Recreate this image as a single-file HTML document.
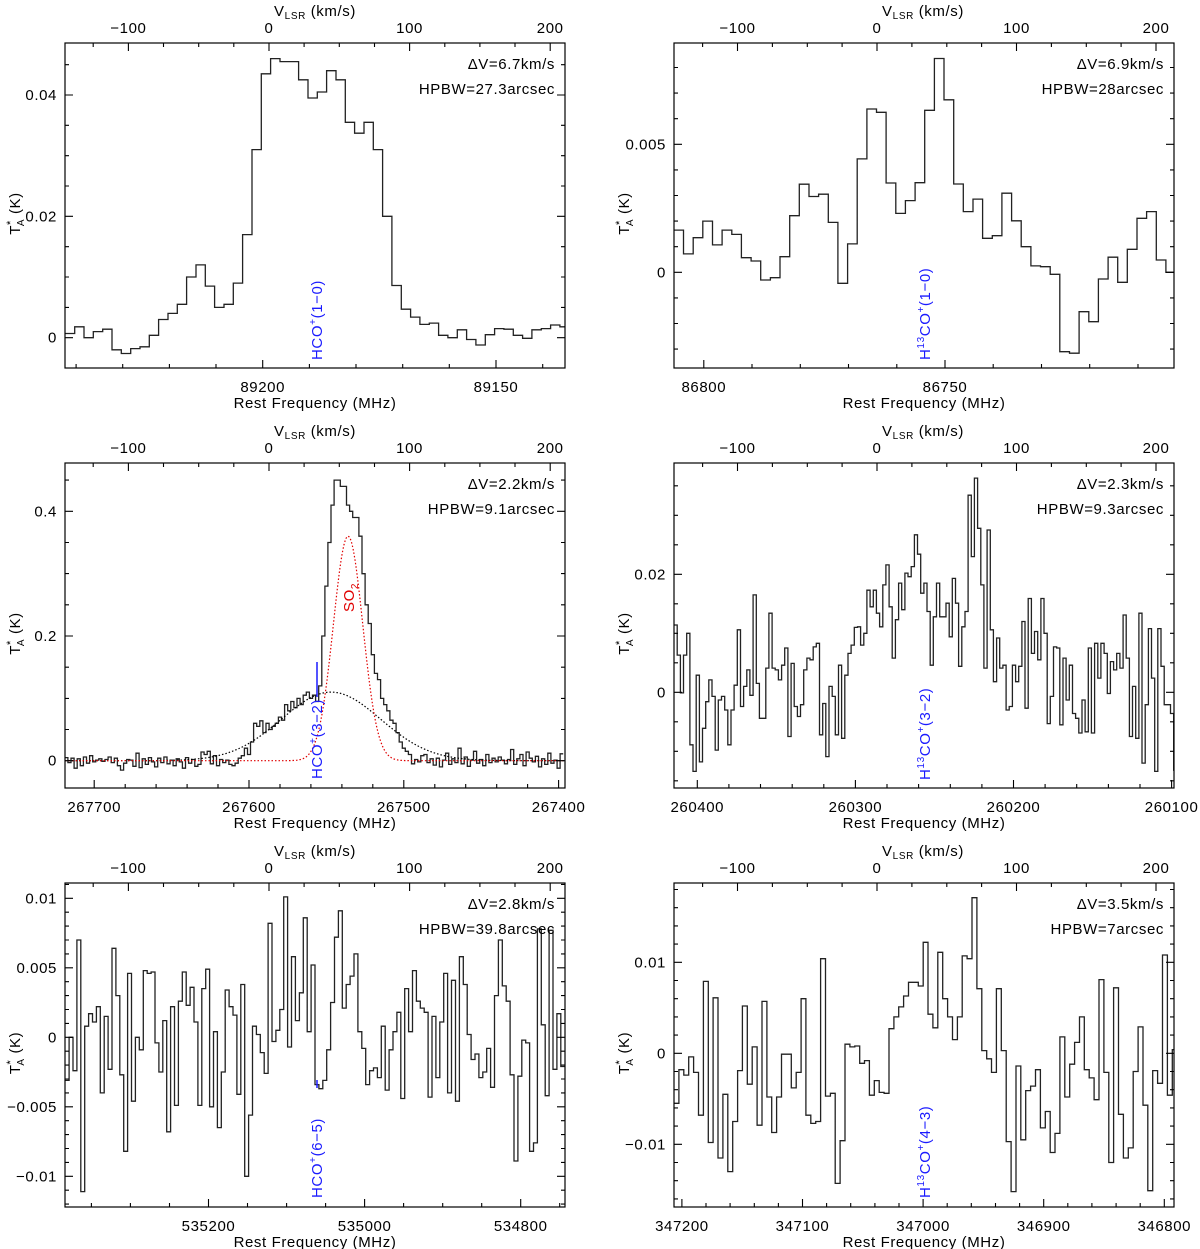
<!DOCTYPE html>
<html>
<head>
<meta charset="utf-8">
<style>
  html, body { margin: 0; padding: 0; background: #fff; }
  svg { display: block; }
  text { font-family: "Liberation Sans", "DejaVu Sans", sans-serif; fill: #000; letter-spacing: 0.6px; }
</style>
</head>
<body>
<svg id="fig" width="1200" height="1249" viewBox="0 0 1200 1249" xmlns="http://www.w3.org/2000/svg"></svg>
<script>
// ---------- DATA (T_A* in K per channel) ----------
const p1Values = [0.0007,0.0018,0,0.001,0.0014,-0.002,-0.0026,-0.0018,-0.0015,0.0004,0.003,0.004,0.0055,0.01,0.012,0.0085,0.005,0.0055,0.009,0.017,0.031,0.0435,0.046,0.0455,0.0455,0.0425,0.0395,0.0405,0.044,0.0425,0.0355,0.0337,0.0355,0.031,0.02,0.0086,0.0047,0.0034,0.0022,0.0024,0.0004,0,0.0013,-0.0003,-0.0012,0.0005,0.0015,0.0014,0.0004,-0.0001,0.0013,0.0015,0.0021,0.0018];
const p2Values = [0.00165,0.00072,0.00135,0.00200,0.00107,0.00165,0.00148,0.00057,0.00044,-0.00030,-0.00021,0.00061,0.00221,0.00344,0.00296,0.00305,0.00195,-0.00043,0.00111,0.00443,0.00638,0.00625,0.00349,0.00230,0.00280,0.00350,0.00633,0.00835,0.00674,0.00345,0.00237,0.00286,0.00133,0.00143,0.00309,0.00201,0.00100,0.00025,0.00022,-0.00008,-0.00310,-0.00316,-0.00154,-0.00193,-0.00026,0.00059,-0.00039,0.00090,0.00211,0.00237,0.00048,0];
const p3Values = [0.005,-0.003,0.004,-0.012,0.003,-0.008,0.006,-0.004,0.008,-0.002,0.001,0.003,-0.001,0.002,0.006,-0.003,0.004,-0.008,-0.015,-0.004,0.002,0.001,-0.009,0.012,-0.011,0.003,-0.006,0.005,-0.002,-0.01,0.004,-0.003,0.006,-0.005,0.001,-0.008,0.003,-0.002,-0.012,0.005,-0.004,0.002,-0.009,-0.006,0.014,0.01,
 0.015,-0.005,0.008,-0.008,0.002,-0.003,0.001,-0.006,-0.008,-0.004,0.004,0.008,0.02,0.01,
 0.03,0.06,0.055,0.064,0.045,0.06,
 0.05,0.055,0.06,0.07,0.065,0.09,
 0.08,0.095,0.085,0.1,0.09,0.105,
 0.11,0.1,0.105,0.095,0.12,
 0.2,0.28,0.35,0.41,0.45,0.45,0.44,0.44,0.41,0.4,0.39,0.39,0.36,0.3,0.25,0.22,0.17,0.14,0.13,0.1,0.09,0.08,0.065,0.06,0.045,0.03,0.02,0.015,0.01,
 -0.005,0.002,-0.002,0.008,0.01,-0.003,0.003,-0.007,0.004,-0.01,0.001,0.012,-0.006,0.003,-0.003,0.02,-0.005,0.006,-0.009,0.001,0.015,-0.004,0.002,-0.008,0.01,-0.003,0.004,-0.002,0.006,0.001,-0.005,0.002,0.018,-0.006,0.003,0.01,-0.008,0.014,0.004,-0.002,0.007,-0.01,0.003,-0.006,0.012,-0.004,0.001,-0.012,0.011];
const p4ValuesmK = [11.4,6.3,-0.1,6.3,10,-8.9,-13.4,2.9,-11.8,-6.1,-1.6,2.1,-0.7,-9.8,-1.3,-0.7,-3,-8.9,-3,1.2,10.6,-2.4,1,3.8,-0.5,16.5,1.5,-4.4,-4.4,4.1,13.4,4.1,3.8,2.1,4.6,7.5,-7.5,4.9,-2.4,-4.1,-2.1,3.8,5.8,5.5,7.7,8.3,-7.2,-1.9,-10.9,1,-0.7,-7.2,4.6,-7.8,2.9,6.6,8,11,11.1,8,10,17.3,14.5,17.3,13.4,11.1,18.2,21.6,14.5,5.8,12.3,18.5,14,20.2,19.6,21.3,26.7,23.4,16.8,18.5,13.7,4.6,12.8,18.5,12.8,12.8,15.1,9.4,19.3,15.1,4.4,11.1,13.7,33.4,23,36.3,27.8,18.2,4.1,27.5,10.6,1.8,9.2,4.1,4.6,-3,-2.4,4.6,1.8,4.4,12,-2.7,15.9,6.6,10.3,5.5,15.9,10,-5.3,-0.7,7.7,7.5,-5.5,5.8,-1.3,4.6,-3.6,-4.4,-6.9,-1.3,-6.7,7.5,-6.9,8.3,2.4,8.3,6.6,-0.2,5.2,3.8,6.6,4.1,13.1,5.8,-7.5,1,-7.8,13.4,-12,-2.1,10.8,2.4,-13.4,10.8,4.4,-2.1,-2.1,-3.6,-13.2,-6.1,-2.4,-4.1];
const p5ValuesmK = [-3.1,0,-2.4,7,-11.1,0.8,1.7,1.1,2.2,-4,1.5,-2.3,6.4,3,-2.7,-8.2,4.6,-4.6,0,-0.9,4.8,4.6,4.7,-0.4,-2.5,1.2,-6.8,2.2,-4.9,2.6,4.7,2.3,3.6,1.1,-4.9,3.5,4.9,-5,0.4,-6.5,-2.5,3.4,2.2,1.6,-4.1,3.8,-10,-5.6,0.8,0.2,-1.1,-2.6,8.2,-0.3,0.5,2,10.1,-0.7,5.8,1.2,3.2,8.6,0.4,5.2,-3.4,-3.7,-3.1,-0.9,2.5,7.2,9.1,2.1,3.8,4.4,6,0.4,-0.8,-3.4,-2.4,-2.2,-2.9,0.8,-3.8,-0.9,0.4,1.8,-4.4,3.5,0.4,4.8,2.6,2.1,1.8,-4.3,1.5,-2.9,1.1,4.6,-4,4.1,-4.6,5.8,3.8,0.2,-1.6,-1.2,-2.9,-2.5,-0.8,-3.6,3,7,3.7,2.6,-2.7,-8.9,-2.8,-0.2,-0.4,-8.2,-7.6,7.8,0.9,-4.2,7.7,-2.3,1.7,-2.1];
const p6ValuesmK = [-5.5,-1.8,-2.4,-0.4,-2.1,-6.8,7.9,-9.8,6.1,-11.5,-4.5,-13,-7.5,-1.9,5.2,-3.4,0.7,-7.9,5.7,-4.8,-8.7,-4.8,-0.1,-0.1,-3.8,-2.1,6,-6.8,-7.7,-7.5,10.4,-4.7,-4.4,-14.3,-9.6,1,0.7,0.8,-1.1,-0.8,-4.6,-3,-4.3,-4.4,2.7,4,5.1,6.3,7.8,7.8,7.4,12.2,4.3,2.8,11.1,6,4,1.5,4,10.7,10.4,17.1,7.1,0.3,-0.6,-2.1,7.1,0.3,-9.7,-15.2,-1.4,-9.5,-4.1,-3.6,-1.8,-8.2,-6.4,-10.9,-8.8,1.8,-4.8,-1.2,1.2,4,-1.8,-2.7,-5.1,8.1,-2.1,-12,7.2,-6.7,-11.5,-10.4,-2,2.9,-5.7,-15.1,-1.9,-3.3,10.8,-4.6,0.4,0];

// Gaussian fit components for HCO+(3-2) panel: [amplitude K, centre MHz, sigma MHz]
const fitBroad = [0.11, 267547, 32];
const fitSO2 = [0.36, 267536, 9.5];

// tick label arrays
const p1FreqTicks = [89200, 89150];
const p2FreqTicks = [86800, 86750];
const p3FreqTicks = [267700, 267600, 267500, 267400];
const p4FreqTicks = [260400, 260300, 260200, 260100];
const p5FreqTicks = [535200, 535000, 534800];
const p6FreqTicks = [347200, 347100, 347000, 346900, 346800];
const velTicks = [-100, 0, 100, 200];
const p1YTicks = [0, 0.02, 0.04];
const p2YTicks = [0, 0.005];
const p3YTicks = [0, 0.2, 0.4];
const p4YTicks = [0, 0.02];
const p5YTicks = [-0.01, -0.005, 0, 0.005, 0.01];
const p6YTicks = [-0.01, 0, 0.01];

const NS = "http://www.w3.org/2000/svg";
const svg = document.getElementById('fig');
function el(tag, attrs, parent) {
  const e = document.createElementNS(NS, tag);
  for (const k in attrs) e.setAttribute(k, attrs[k]);
  (parent || svg).appendChild(e);
  return e;
}
function lin(a) {
  const s = (a[3] - a[1]) / (a[2] - a[0]);
  const f = v => a[1] + (v - a[0]) * s;
  f.inv = p => a[0] + (p - a[1]) / s;
  return f;
}
function fmt(v) {
  if (v === 0) return "0";
  let s = String(+v.toFixed(4));
  return s.replace("-", "\u2212");
}

const FS = 15;
const panels = [
  {id:'hco-1-0', x0:65, x1:565, y0:43, y1:368, fr:[89200,262.7,89150,496], yr:[0,337.7,0.04,95], vr:[0,269,100,409.6],
   start:89242.3, step:-2, vals:p1Values, scale:1, fT:p1FreqTicks, fMinor:10, yT:p1YTicks, yMinor:0.005,
   dv:'\u0394V=6.7km/s', hp:'HPBW=27.3arcsec', iso:false, tr:'(1\u22120)', lx:317, ly:360},
  {id:'h13co-1-0', x0:674, x1:1174, y0:43, y1:368, fr:[86800,703.8,86750,945], yr:[0,272.3,0.005,144.3], vr:[0,877,100,1016.5],
   start:86806.2, step:-2, vals:p2Values, scale:1, fT:p2FreqTicks, fMinor:10, yT:p2YTicks, yMinor:0.001,
   dv:'\u0394V=6.9km/s', hp:'HPBW=28arcsec', iso:true, tr:'(1\u22120)', lx:925, ly:360},
  {id:'hco-3-2', x0:65, x1:565, y0:463, y1:788, fr:[267700,94.2,267500,403.8], yr:[0,760.7,0.4,511.3], vr:[0,269,100,409.6],
   start:267719, step:-2, vals:p3Values, scale:1, fT:p3FreqTicks, fMinor:20, yT:p3YTicks, yMinor:0.05,
   dv:'\u0394V=2.2km/s', hp:'HPBW=9.1arcsec', iso:false, tr:'(3\u22122)', lx:317, ly:779, fits:true},
  {id:'h13co-3-2', x0:674, x1:1174, y0:463, y1:788, fr:[260400,697.3,260200,1013.5], yr:[0,692.3,0.02,574.3], vr:[0,877,100,1016.5],
   start:260414.7, step:-2, vals:p4ValuesmK, scale:0.001, fT:p4FreqTicks, fMinor:20, yT:p4YTicks, yMinor:0.005,
   dv:'\u0394V=2.3km/s', hp:'HPBW=9.3arcsec', iso:true, tr:'(3\u22122)', lx:925, ly:780},
  {id:'hco-6-5', x0:65, x1:565, y0:883, y1:1207, fr:[535200,208.5,535000,364.6], yr:[0,1037.3,0.01,898.3], vr:[0,269,100,409.6],
   start:535383.6, step:-5, vals:p5ValuesmK, scale:0.001, fT:p5FreqTicks, fMinor:50, yT:p5YTicks, yMinor:0.001,
   dv:'\u0394V=2.8km/s', hp:'HPBW=39.8arcsec', iso:false, tr:'(6\u22125)', lx:317, ly:1198, tick:true},
  {id:'h13co-4-3', x0:674, x1:1174, y0:883, y1:1207, fr:[347200,681.9,347000,923.1], yr:[0,1053.3,0.01,962.3], vr:[0,877,100,1016.5],
   start:347206.5, step:-4.05, vals:p6ValuesmK, scale:0.001, fT:p6FreqTicks, fMinor:20, yT:p6YTicks, yMinor:0.002,
   dv:'\u0394V=3.5km/s', hp:'HPBW=7arcsec', iso:true, tr:'(4\u22123)', lx:925, ly:1198}
];

panels.forEach((P, pi) => {
  const g = el('g', {});
  
  
  const fx = lin(P.fr), fy = lin(P.yr), fv = lin(P.vr);
  const W = P.x1 - P.x0, H = P.y1 - P.y0;
  const clipId = 'clip' + pi;
  const cp = el('clipPath', {id: clipId}, g);
  el('rect', {x:P.x0, y:P.y0, width:W, height:H}, cp);

  let d = '';
  P.vals.forEach((v, i) => {
    const xa = fx(P.start + P.step * i), xb = fx(P.start + P.step * (i + 1));
    const y = fy(v * P.scale);
    d += (i === 0 ? `M${xa.toFixed(1)},${y.toFixed(1)}` : `V${y.toFixed(1)}`) + `H${xb.toFixed(1)}`;
  });
  const sp = el('path', {d:d, fill:'none', stroke:'#222', 'stroke-width':1.3, 'clip-path':`url(#${clipId})`}, g);
  
  

  if (P.fits) {
    const mk = (par, col, name) => {
      let dd = '';
      for (let px = P.x0; px <= P.x1; px += 1) {
        const f = fx.inv(px);
        const v = par[0] * Math.exp(-0.5 * Math.pow((f - par[1]) / par[2], 2));
        dd += (px === P.x0 ? 'M' : 'L') + px + ',' + fy(v).toFixed(1);
      }
      const p = el('path', {d:dd, fill:'none', stroke:col, 'stroke-width':1.2, 'stroke-dasharray':'1.5,2', 'clip-path':`url(#${clipId})`}, g);
      
      
    };
    mk(fitBroad, '#000', 'broad-gaussian-fit');
    mk(fitSO2, '#e00000', 'so2-gaussian-fit');
    const so2 = el('text', {transform:'translate(354,612) rotate(-90)', 'font-size':FS, style:'fill:#e00000'}, g);
    
    
    so2.innerHTML = 'SO<tspan dy="4" font-size="10">2</tspan>';
    const bl = el('line', {x1:P.lx, x2:P.lx, y1:662, y2:697, stroke:'#1a1aff', 'stroke-width':1.5}, g);
    
    
  }
  if (P.tick) {
    const bl = el('line', {x1:P.lx, x2:P.lx, y1:1080, y2:1088, stroke:'#1a1aff', 'stroke-width':1.5}, g);
    
    
  }

  const fr = el('rect', {x:P.x0, y:P.y0, width:W, height:H, fill:'none', stroke:'#000', 'stroke-width':1.2}, g);
  
  

  const yLo = fy.inv(P.y1), yHi = fy.inv(P.y0);
  const nMin = Math.ceil(yLo / P.yMinor - 1e-6), nMax = Math.floor(yHi / P.yMinor + 1e-6);
  let td = '';
  for (let n = nMin; n <= nMax; n++) {
    const v = n * P.yMinor, y = fy(v).toFixed(1);
    const major = P.yT.some(t => Math.abs(t - v) < P.yMinor * 0.01);
    const L = major ? 8 : 4;
    td += `M${P.x0},${y}h${L}M${P.x1},${y}h${-L}`;
  }
  const fLo = Math.min(fx.inv(P.x0), fx.inv(P.x1)), fHi = Math.max(fx.inv(P.x0), fx.inv(P.x1));
  for (let n = Math.ceil(fLo / P.fMinor); n <= Math.floor(fHi / P.fMinor); n++) {
    const f = n * P.fMinor, x = fx(f).toFixed(1);
    const major = P.fT.includes(f);
    td += `M${x},${P.y1}v${major ? -8 : -4}`;
  }
  const vLo = fv.inv(P.x0), vHi = fv.inv(P.x1);
  for (let n = Math.ceil(vLo / 25); n <= Math.floor(vHi / 25); n++) {
    const v = n * 25, x = fv(v).toFixed(1);
    td += `M${x},${P.y0}v${v % 100 === 0 ? 8 : 4}`;
  }
  const tk = el('path', {d:td, stroke:'#000', 'stroke-width':1.1, fill:'none'}, g);
  
  

  P.yT.forEach(v => {
    const t = el('text', {x:P.x0 - 8, y:fy(v) + 5, 'font-size':FS, 'text-anchor':'end'}, g);
    
    
    t.textContent = fmt(v);
  });
  P.fT.forEach(f => {
    const t = el('text', {x:fx(f), y:P.y1 + 24, 'font-size':FS, 'text-anchor':'middle'}, g);
    
    
    t.textContent = String(f);
  });
  velTicks.forEach(v => {
    const t = el('text', {x:fv(v), y:P.y0 - 10, 'font-size':FS, 'text-anchor':'middle'}, g);
    
    
    t.textContent = fmt(v);
  });
  const cx = (P.x0 + P.x1) / 2;
  const xt = el('text', {x:cx, y:P.y1 + 40, 'font-size':FS, 'text-anchor':'middle'}, g);
  
  
  xt.textContent = 'Rest Frequency (MHz)';
  const vt = el('text', {x:P.vr[1] + 46, y:P.y0 - 27, 'font-size':FS, 'text-anchor':'middle'}, g);
  
  
  vt.innerHTML = 'V<tspan dy="3" font-size="10">LSR</tspan><tspan dy="-3"> (km/s)</tspan>';
  const yt = el('text', {transform:`translate(${P.x0 - 45},${(P.y0 + P.y1) / 2 + 8}) rotate(-90)`, 'font-size':FS, 'text-anchor':'middle'}, g);
  
  
  yt.innerHTML = 'T<tspan dy="-6" font-size="11">*</tspan><tspan dx="-6" dy="10" font-size="10">A</tspan><tspan dy="-4"> (K)</tspan>';

  const t1 = el('text', {x:P.x1 - 10, y:P.y0 + 26, 'font-size':FS, 'text-anchor':'end'}, g);
  
  
  t1.textContent = P.dv;
  const t2 = el('text', {x:P.x1 - 10, y:P.y0 + 51, 'font-size':FS, 'text-anchor':'end'}, g);
  
  
  t2.textContent = P.hp;

  const ll = el('text', {transform:`translate(${P.lx + 5},${P.ly}) rotate(-90)`, 'font-size':FS, style:'fill:#1a1aff'}, g);
  
  
  ll.innerHTML = P.iso
    ? `H<tspan dy="-6" font-size="10">13</tspan><tspan dy="6">CO</tspan><tspan dy="-6" font-size="10">+</tspan><tspan dy="6">${P.tr}</tspan>`
    : `HCO<tspan dy="-6" font-size="10">+</tspan><tspan dy="6">${P.tr}</tspan>`;
});
</script>
</body>
</html>
